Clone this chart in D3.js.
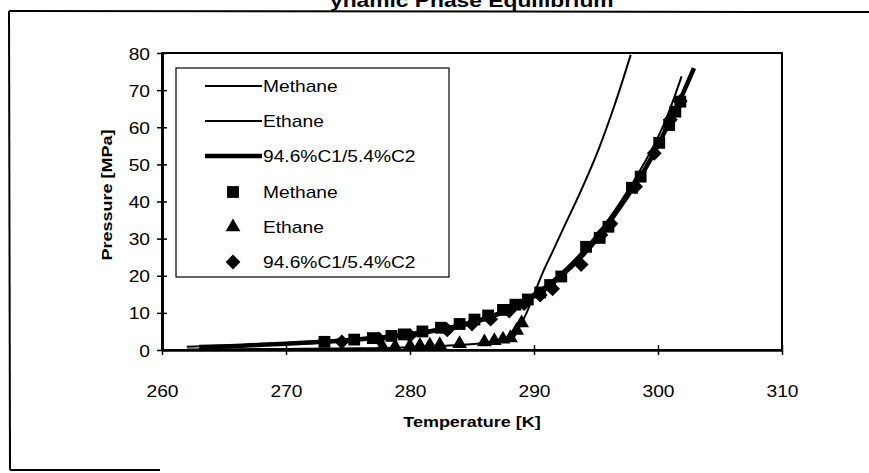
<!DOCTYPE html>
<html>
<head>
<meta charset="utf-8">
<script src="https://cdn.jsdelivr.net/npm/d3@7"></script>
<style>
  body { margin: 0; background: #fff; }
  svg { display: block; }
  text { font-family: "Liberation Sans", Arial, Helvetica, sans-serif; fill: #000; }
</style>
</head>
<body>
<svg id="chart" width="869" height="473"></svg>
<script>
// model curves [T (K), P (MPa)]
const methaneCurve = [[262, 0.9], [266, 1.3], [270, 1.9], [273, 2.5], [276, 3.2], [280, 4.6], [283, 6.2], [285, 7.8], [287, 10.0], [289, 13.2], [291, 17.5], [293, 23.4], [295, 30.8], [297, 40.0], [299, 51.0], [300.5, 61.0], [301.9, 73.7]];
const ethaneCurve = [[262, 0.15], [266, 0.22], [270, 0.3], [274, 0.4], [277, 0.5], [280, 0.75], [282, 1.0], [284, 1.35], [286, 1.9], [287.5, 2.6], [288.3, 3.3], [288.8, 6.0], [289.4, 10.0], [290.0, 15.0], [290.7, 20.8], [291.5, 26.5], [292.3, 32.3], [293.8, 43.0], [295.2, 54.0], [296.5, 66.0], [297.8, 79.5]];
const mixCurve = [[263, 0.8], [266, 1.1], [270, 1.7], [273, 2.2], [276, 2.9], [280, 4.2], [283, 5.8], [285, 7.3], [287, 9.5], [289, 12.6], [291, 16.8], [293, 22.4], [295, 29.6], [297, 38.8], [299, 49.0], [300.5, 58.5], [302, 69.0], [302.9, 75.9]];

// experimental points
const methanePts = [[273.1, 2.2], [275.5, 2.8], [277.0, 3.2], [278.5, 3.8], [279.5, 4.2], [281.0, 5.0], [282.5, 6.0], [284.0, 7.0], [285.2, 8.2], [286.3, 9.3], [287.5, 10.8], [288.5, 12.2], [289.5, 13.6], [290.5, 15.5], [291.3, 17.5], [292.2, 19.8], [294.2, 27.8], [295.3, 30.2], [296.0, 33.2], [297.9, 43.7], [298.6, 46.7], [300.1, 55.8], [300.9, 60.6], [301.4, 64.2], [301.8, 66.9]];
const ethanePts = [[277.8, 0.5], [278.8, 0.6], [280.0, 0.8], [280.8, 0.9], [281.6, 1.0], [282.4, 1.1], [284.0, 1.4], [286.0, 1.9], [286.8, 2.2], [287.5, 2.6], [288.1, 3.0], [288.6, 5.0], [289.0, 7.0]];
const mixPts = [[274.5, 2.2], [277.5, 3.0], [280.0, 3.9], [283.0, 5.4], [285.0, 7.0], [286.5, 8.3], [288.0, 10.5], [289.2, 12.5], [290.5, 14.8], [291.5, 16.5], [293.8, 23.0], [295.4, 31.0], [296.2, 34.0], [298.2, 44.0], [299.7, 53.0], [301.0, 62.0], [301.8, 67.0]];

const xTicks = [260, 270, 280, 290, 300, 310];
const yTicks = [0, 10, 20, 30, 40, 50, 60, 70, 80];
const legendLabels = ["Methane", "Ethane", "94.6%C1/5.4%C2", "Methane", "Ethane", "94.6%C1/5.4%C2"];

const svg = d3.select("#chart");
const SX = 1.2; // wide scanned font

const x = d3.scaleLinear().domain([260, 310]).range([162, 782]);
const y = d3.scaleLinear().domain([0, 80]).range([350, 53]);

// outer page frame (partly visible)
svg.append("line").attr("x1", 9).attr("y1", 11).attr("x2", 869).attr("y2", 12).attr("stroke", "#000").attr("stroke-width", 2);
svg.append("line").attr("x1", 9).attr("y1", 11).attr("x2", 10).attr("y2", 470).attr("stroke", "#000").attr("stroke-width", 2);
svg.append("line").attr("x1", 10).attr("y1", 470).attr("x2", 160).attr("y2", 470).attr("stroke", "#000").attr("stroke-width", 2);

// title, cut off by the top edge as in the scan
svg.append("text")
    .attr("transform", `translate(330,7) scale(${SX},1)`)
    .attr("font-size", 19).attr("font-weight", "bold")
    .text("ynamic Phase Equilibrium");

// plot frame
svg.append("rect")
    .attr("x", x(260)).attr("y", y(80))
    .attr("width", x(310) - x(260)).attr("height", y(0) - y(80))
    .attr("fill", "none").attr("stroke", "#000").attr("stroke-width", 2);

// axes
const gy = svg.append("g").attr("transform", `translate(${x(260)},0)`)
    .call(d3.axisLeft(y).tickValues(yTicks).tickSize(5).tickSizeOuter(0));
gy.select(".domain").attr("stroke-width", 3);
gy.selectAll(".tick line").attr("x1", 5).attr("x2", -5).attr("stroke-width", 1.5);
gy.selectAll(".tick text")
    .attr("x", null).attr("dy", null)
    .attr("transform", `translate(-12,6) scale(${SX},1)`)
    .attr("font-size", 16).attr("font-family", null);

const gx = svg.append("g").attr("transform", `translate(0,${y(0)})`)
    .call(d3.axisBottom(x).tickValues(xTicks).tickSize(5).tickSizeOuter(0));
gx.select(".domain").attr("stroke-width", 2.5);
gx.selectAll(".tick line").attr("y1", -5).attr("y2", 5).attr("stroke-width", 1.5);
gx.selectAll(".tick text")
    .attr("y", null).attr("dy", null)
    .attr("transform", `translate(0,47) scale(${SX},1)`)
    .attr("font-size", 16).attr("font-family", null);

// axis titles
svg.append("text")
    .attr("transform", `translate(472,427) scale(${SX},1)`)
    .attr("text-anchor", "middle").attr("font-size", 15).attr("font-weight", "bold")
    .text("Temperature [K]");
svg.append("text")
    .attr("transform", `translate(112,195) rotate(-90) scale(${SX},1)`)
    .attr("text-anchor", "middle").attr("font-size", 15).attr("font-weight", "bold")
    .text("Pressure [MPa]");

// data
svg.append("clipPath").attr("id", "plotClip").append("rect")
    .attr("x", x(260)).attr("y", y(80)).attr("width", x(310) - x(260)).attr("height", y(0) - y(80));
const plot = svg.append("g").attr("clip-path", "url(#plotClip)");

const line = d3.line().x(d => x(d[0])).y(d => y(d[1])).curve(d3.curveCatmullRom);
const curves = [
    { data: methaneCurve, w: 2 },
    { data: ethaneCurve, w: 2 },
    { data: mixCurve, w: 4.5 }
];
curves.forEach(c => {
    plot.append("path").datum(c.data)
        .attr("d", line)
        .attr("fill", "none").attr("stroke", "#000").attr("stroke-width", c.w);
});

const sq = d3.symbol().type(d3.symbolSquare).size(140)();
const tri = d3.symbol().type(d3.symbolTriangle).size(95)();
const dia = d3.symbol().type(d3.symbolSquare).size(110)();

plot.selectAll(".pt-m").data(methanePts).join("path")
    .attr("d", sq).attr("transform", d => `translate(${x(d[0])},${y(d[1])})`).attr("fill", "#000");
plot.selectAll(".pt-e").data(ethanePts).join("path")
    .attr("d", tri).attr("transform", d => `translate(${x(d[0])},${y(d[1]) - 1})`).attr("fill", "#000");
plot.selectAll(".pt-x").data(mixPts).join("path")
    .attr("d", dia).attr("transform", d => `translate(${x(d[0])},${y(d[1])}) rotate(45)`).attr("fill", "#000");

// legend
const lg = svg.append("g");
lg.append("rect").attr("x", 176).attr("y", 68).attr("width", 273).attr("height", 209)
    .attr("fill", "#fff").attr("stroke", "#000").attr("stroke-width", 1.2);
const rowY = [86, 121, 156, 192, 227, 262];
legendLabels.forEach((lab, i) => {
    const ry = rowY[i];
    if (i < 3) {
        lg.append("line").attr("x1", 205).attr("x2", 262).attr("y1", ry).attr("y2", ry)
            .attr("stroke", "#000").attr("stroke-width", curves[i].w);
    } else {
        const shape = [sq, tri, dia][i - 3];
        lg.append("path").attr("d", shape)
            .attr("transform", `translate(233,${ry})` + (i === 5 ? " rotate(45)" : ""))
            .attr("fill", "#000");
    }
    lg.append("text")
        .attr("transform", `translate(263,${ry + 6}) scale(${SX},1)`)
        .attr("font-size", 16)
        .text(lab);
});
</script>
</body>
</html>
